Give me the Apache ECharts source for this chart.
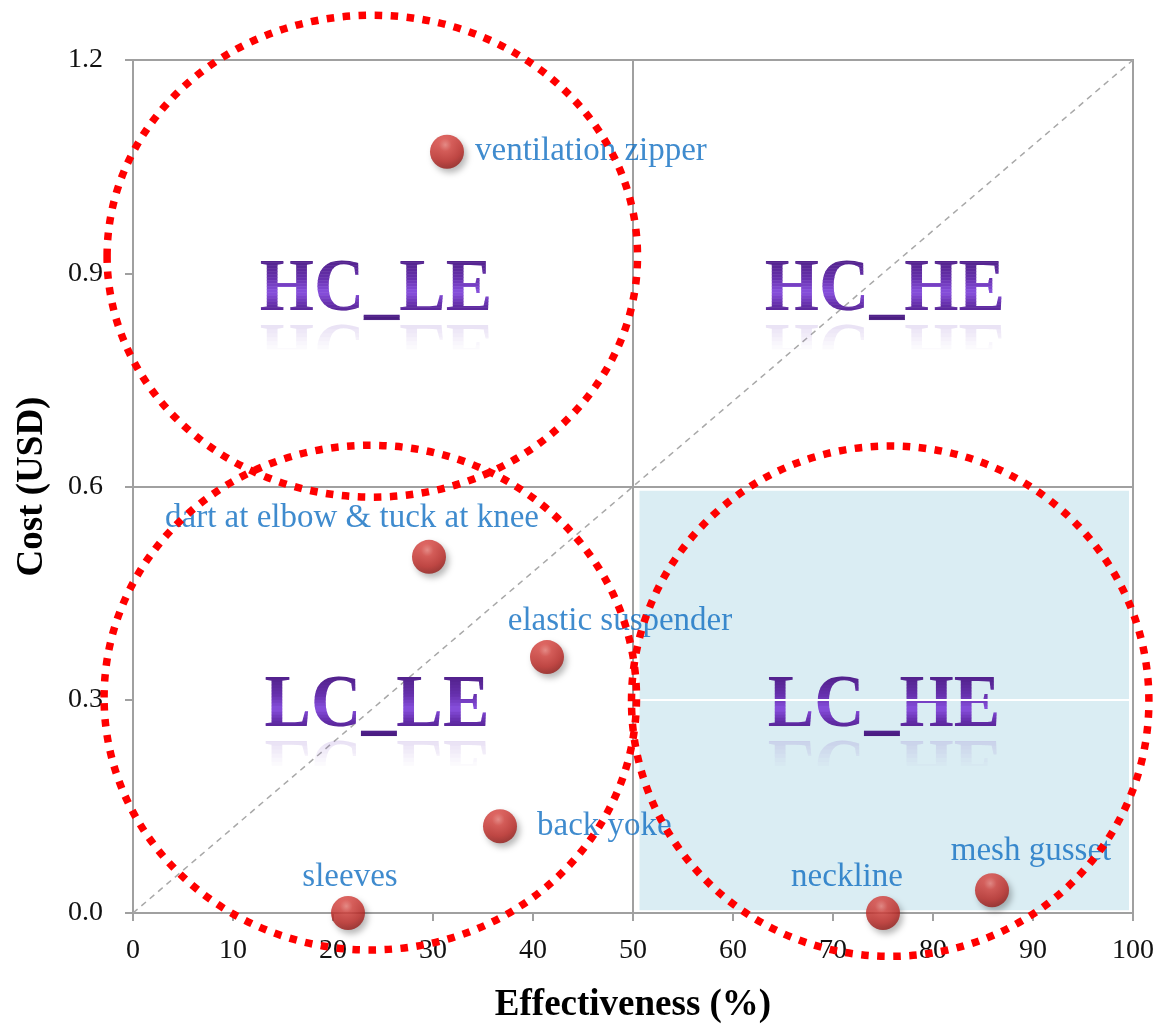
<!DOCTYPE html>
<html>
<head>
<meta charset="utf-8">
<script src="https://cdn.jsdelivr.net/npm/echarts@6/dist/echarts.min.js"></script>
<style>
  html, body { margin: 0; padding: 0; background: #ffffff; }
  #chart { width: 1157px; height: 1029px; }
</style>
</head>
<body>
<div id="chart"></div>
<script>
// Design features: effectiveness (%) versus added cost (USD)
const itemNames = ['ventilation zipper', 'dart at elbow & tuck at knee', 'elastic suspender', 'back yoke', 'sleeves', 'neckline', 'mesh gusset'];
const effectiveness = [31.4, 29.6, 41.4, 36.7, 21.5, 75.0, 85.9];
const cost = [1.071, 0.501, 0.360, 0.122, 0.0, 0.0, 0.032];

// Quadrant captions (centre of each caption, in data units)
const quadrantNames = ['HC_LE', 'HC_HE', 'LC_LE', 'LC_HE'];
const quadrantX = [24.3, 75.2, 24.4, 75.1];
const quadrantY = [0.876, 0.876, 0.29, 0.29];

// Dotted rings around groups (centre and radii, in data units)
const ringCx = [23.93, 23.73, 75.72];
const ringCy = [0.924, 0.303, 0.298];
const ringRx = [26.52, 26.62, 25.87];
const ringRy = [0.339, 0.355, 0.359];

// Reference geometry
const diagonal = [[0, 0], [100, 1.2]];
const highlightZone = [[50.65, 0.004], [99.6, 0.594]];
const splitX = 50;
const splitY = 0.6;

// Axis scale
const xMin = 0, xMax = 100, xStep = 10;
const yMin = 0, yMax = 1.2, yStep = 0.3;

const SERIF = '"Liberation Serif", "Times New Roman", serif';
const LABEL_BLUE = '#0f6ec2';
const AXIS_GREY = '#a0a0a0';

const labelPlacement = {
  'ventilation zipper': { position: 'right', distance: 11 },
  'dart at elbow & tuck at knee': { position: 'top', distance: 5, offset: [-77, 0] },
  'elastic suspender': { position: 'top', distance: 5, offset: [73, 3] },
  'back yoke': { position: 'right', distance: 20 },
  'sleeves': { position: 'top', distance: 5, offset: [2, 3] },
  'neckline': { position: 'top', distance: 5, offset: [-36, 3] },
  'mesh gusset': { position: 'top', distance: 5, offset: [39, 0] }
};

const pointData = itemNames.map((name, i) => ({
  name: name,
  value: [effectiveness[i], cost[i]],
  label: Object.assign({ show: true, formatter: '{b}' }, labelPlacement[name])
}));

// Purple shading of the captions: colour at a vertical position (px from centre)
const shadeStops = [[-32, [80, 32, 136]], [-12, [102, 48, 172]], [2, [136, 80, 222]], [14, [100, 46, 170]], [30, [70, 26, 124]]];
function shadeAt(y) {
  if (y <= shadeStops[0][0]) return shadeStops[0][1];
  for (let k = 1; k < shadeStops.length; k++) {
    const a = shadeStops[k - 1], b = shadeStops[k];
    if (y <= b[0]) {
      const t = (y - a[0]) / (b[0] - a[0]);
      return a[1].map((c, j) => Math.round(c + (b[1][j] - c) * t));
    }
  }
  return shadeStops[shadeStops.length - 1][1];
}

const chart = echarts.init(document.getElementById('chart'), null, { renderer: 'canvas' });

function captionItem(params, api) {
  const p = api.coord([api.value(0), api.value(1)]);
  const text = quadrantNames[params.dataIndex];
  const font = 'bold 75px ' + SERIF;
  const base = 27;           // baseline offset from caption centre
  const children = [];
  // faded mirror image below the baseline
  const bandH = 4;
  for (let k = 0; k < 8; k++) {
    const alpha = 0.24 * (1 - k / 8);
    children.push({
      type: 'text',
      x: 0, y: 0,
      originX: 0, originY: base,
      scaleY: -1,
      style: {
        text: text, x: 0, y: 0, font: font,
        align: 'center', verticalAlign: 'middle',
        fill: 'rgba(140,100,200,' + alpha.toFixed(3) + ')'
      },
      clipPath: { type: 'rect', shape: { x: -300, y: base - (k + 1) * bandH, width: 600, height: bandH } }
    });
  }
  // main caption painted in horizontal bands for a vertical shade
  for (let y = -40; y < 40; y += 3) {
    const c = shadeAt(y + 1.5);
    children.push({
      type: 'text', x: 0, y: 0,
      style: { text: text, x: 0, y: 0, font: font, align: 'center', verticalAlign: 'middle',
        fill: 'rgb(' + c.join(',') + ')' },
      clipPath: { type: 'rect', shape: { x: -300, y: y, width: 600, height: 3.4 } }
    });
  }
  return { type: 'group', x: p[0], y: p[1], scaleX: 0.93, children: children };
}

const option = {
  backgroundColor: '#ffffff',
  animation: false,
  grid: {
    left: 133, right: 23, top: 60, bottom: 116,
    show: true, borderColor: AXIS_GREY, borderWidth: 2, backgroundColor: 'transparent'
  },
  xAxis: {
    type: 'value', min: xMin, max: xMax, interval: xStep,
    name: 'Effectiveness (%)', nameLocation: 'middle', nameGap: 74,
    nameTextStyle: { fontFamily: SERIF, fontWeight: 'bold', fontSize: 37, color: '#000' },
    axisLine: { show: true, lineStyle: { color: AXIS_GREY, width: 2 } },
    axisTick: { show: true, length: 8, lineStyle: { color: AXIS_GREY, width: 2 } },
    axisLabel: { fontFamily: SERIF, fontSize: 28, color: '#111', margin: 24 },
    splitLine: { show: false }
  },
  yAxis: {
    type: 'value', min: yMin, max: yMax, interval: yStep,
    name: 'Cost (USD)', nameLocation: 'middle', nameGap: 82, nameRotate: 90,
    nameTextStyle: { fontFamily: SERIF, fontWeight: 'bold', fontSize: 37, color: '#000' },
    axisLine: { show: true, lineStyle: { color: AXIS_GREY, width: 2 } },
    axisTick: { show: true, length: 8, lineStyle: { color: AXIS_GREY, width: 2 } },
    axisLabel: { fontFamily: SERIF, fontSize: 28, color: '#111', margin: 30,
      formatter: v => v.toFixed(1) },
    splitLine: { show: false }
  },
  series: [
    {
      // 1:1 reference diagonal plus quadrant dividers and the shaded zone
      type: 'line',
      data: diagonal,
      symbol: 'none',
      silent: true,
      z: 2,
      lineStyle: { color: '#a8a8a8', width: 1.5, type: [6, 5] },
      markArea: {
        silent: true,
        itemStyle: { color: '#daedf3' },
        data: [[{ coord: highlightZone[0] }, { coord: highlightZone[1] }]]
      },
      markLine: {
        silent: true,
        symbol: 'none',
        label: { show: false },
        lineStyle: { color: AXIS_GREY, width: 2, type: 'solid' },
        data: [
          { xAxis: splitX },
          { yAxis: splitY },
          [
            { coord: [highlightZone[0][0], yStep], lineStyle: { color: '#ffffff', width: 2 } },
            { coord: [highlightZone[1][0], yStep] }
          ]
        ]
      }
    },
    {
      // quadrant captions with a faded reflection
      type: 'custom',
      coordinateSystem: 'cartesian2d',
      silent: true,
      clip: false,
      z: 3,
      data: quadrantX.map((x, i) => [x, quadrantY[i]]),
      encode: { x: 0, y: 1 },
      renderItem: captionItem
    },
    {
      type: 'scatter',
      data: pointData,
      symbol: 'circle',
      symbolSize: 34,
      z: 5,
      itemStyle: {
        color: new echarts.graphic.RadialGradient(0.45, 0.3, 0.75, [
          { offset: 0, color: '#ef7e78' },
          { offset: 0.25, color: '#da4540' },
          { offset: 0.65, color: '#c02a26' },
          { offset: 1, color: '#8a1512' }
        ]),
        shadowColor: 'rgba(0,0,0,0.35)',
        shadowBlur: 6,
        shadowOffsetX: 3,
        shadowOffsetY: 4
      },
      label: {
        show: true,
        formatter: '{b}',
        fontFamily: SERIF,
        fontSize: 33,
        color: LABEL_BLUE
      }
    },
    {
      // red dotted rings grouping the features
      type: 'custom',
      coordinateSystem: 'cartesian2d',
      silent: true,
      clip: false,
      z: 10,
      data: ringCx.map((x, i) => [x, ringCy[i], ringRx[i], ringRy[i]]),
      encode: { x: 0, y: 1 },
      renderItem: function (params, api) {
        const c = api.coord([api.value(0), api.value(1)]);
        const s = api.size([api.value(2), api.value(3)]);
        return {
          type: 'ellipse',
          shape: { cx: c[0], cy: c[1], rx: s[0], ry: s[1] },
          style: {
            fill: 'none',
            stroke: '#ff0000',
            lineWidth: 7.5,
            lineDash: [7.5, 8.5],
            lineCap: 'butt'
          }
        };
      }
    }
  ]
};

chart.setOption(option);
</script>
</body>
</html>
